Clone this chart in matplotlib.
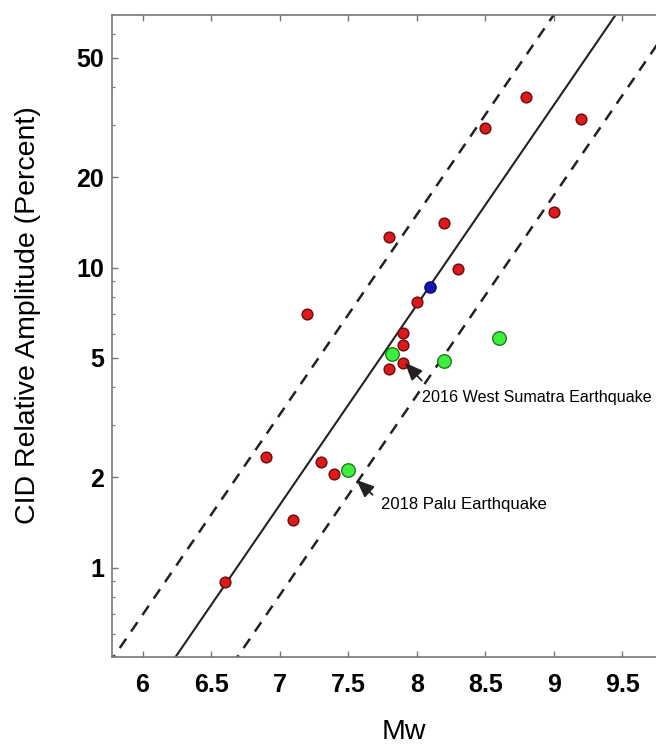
import numpy as np
import matplotlib
matplotlib.use("Agg")
import matplotlib.pyplot as plt
from matplotlib.ticker import FixedLocator, NullFormatter

plt.rcParams['font.family'] = ['Liberation Sans', 'DejaVu Sans']

# --- Data ---
red_mw = [8.8, 8.5, 9.2, 8.2, 7.8, 9.0, 8.3, 8.0, 7.2, 7.9, 7.9, 7.9, 7.8, 6.9, 7.3, 7.4, 7.1, 6.6]
red_amp = [37.0, 29.2, 31.4, 14.1, 12.7, 15.3, 9.9, 7.7, 7.0, 6.04, 5.52, 4.80, 4.59, 2.33, 2.25, 2.06, 1.44, 0.894]

green_mw = [7.82, 8.2, 8.6, 7.5]
green_amp = [5.17, 4.88, 5.83, 2.12]

blue_mw = [8.1]
blue_amp = [8.64]

# fit line: log10(A) = slope * Mw + intercept, dashed bounds = factor 2
FIT_SLOPE = 2.0 / 3.0
FIT_INTERCEPT = -4.458
BOUND_FACTOR = 2.0

y_ticks = [1, 2, 5, 10, 20, 50]
x_ticks = [6, 6.5, 7, 7.5, 8, 8.5, 9, 9.5]

# --- Figure ---
W, H = 656, 746
fig = plt.figure(figsize=(W / 100, H / 100), dpi=100)
ax = fig.add_axes([112.4 / W, 1 - 657.3 / H, (695 - 112.4) / W, (657.3 - 14.7) / H])

mw_line = np.array([5.0, 10.5])
fit = 10 ** (FIT_SLOPE * mw_line + FIT_INTERCEPT)
ax.plot(mw_line, fit, color='#222222', lw=1.5, zorder=2)
ax.plot(mw_line, fit * BOUND_FACTOR, color='#222222', lw=1.8, ls=(0, (4.5, 3.5)), zorder=2)
ax.plot(mw_line, fit / BOUND_FACTOR, color='#222222', lw=1.8, ls=(0, (4.5, 3.5)), zorder=2)

ax.scatter(red_mw, red_amp, s=60, c='#dd1a1a', edgecolors='#6a0a0a', linewidths=1.0, zorder=3)
ax.scatter(green_mw, green_amp, s=95, c='#3ef03e', edgecolors='#1f7a1f', linewidths=1.0, zorder=3)
ax.scatter(blue_mw, blue_amp, s=65, c='#1515b5', edgecolors='#0a0a60', linewidths=1.0, zorder=3)

# annotations
arrow = dict(arrowstyle='-|>,head_length=0.6,head_width=0.25', color='#222222', lw=1.3,
             mutation_scale=18)
ax.annotate('', xy=(7.90, 4.90), xytext=(8.05, 4.14), arrowprops=arrow, zorder=4)
ax.text(8.036, 3.70, '2016 West Sumatra Earthquake', fontsize=11.6, va='center', ha='left')
ax.annotate('', xy=(7.545, 1.99), xytext=(7.693, 1.725), arrowprops=arrow, zorder=4)
ax.text(7.737, 1.618, '2018 Palu Earthquake', fontsize=12, va='center', ha='left')

ax.set_yscale('log')
ax.set_xlim(5.78, 10.03)
ax.set_ylim(0.5026, 69.7)

ax.xaxis.set_major_locator(FixedLocator(x_ticks))
ax.set_xticklabels([f'{t:g}' for t in x_ticks], fontsize=18, fontweight='bold')
ax.yaxis.set_major_locator(FixedLocator(y_ticks))
ax.set_yticklabels([str(t) for t in y_ticks], fontsize=18, fontweight='bold')
minor = [m * 10.0 ** e for e in (-1, 0, 1) for m in range(1, 10) if m * 10.0 ** e not in y_ticks]
ax.yaxis.set_minor_locator(FixedLocator(minor))
ax.yaxis.set_minor_formatter(NullFormatter())

ax.tick_params(axis='x', which='major', direction='in', length=4, width=1, color='#777777',
               top=True, pad=11)
ax.tick_params(axis='y', which='major', direction='in', length=4, width=1, color='#777777', pad=6)
ax.tick_params(axis='y', which='minor', direction='in', length=2.5, width=0.8, color='#777777')
for sp in ax.spines.values():
    sp.set_color('#777777')
    sp.set_linewidth(1.2)

fig.text(403.7 / W, 1 - 732 / H, 'Mw', fontsize=20.5, ha='center', va='center')
fig.text(28.5 / W, 1 - 315 / H, 'CID Relative Amplitude (Percent)', fontsize=20.5,
         rotation=90, ha='center', va='center')

fig.savefig('out.png', dpi=100, facecolor='white')
